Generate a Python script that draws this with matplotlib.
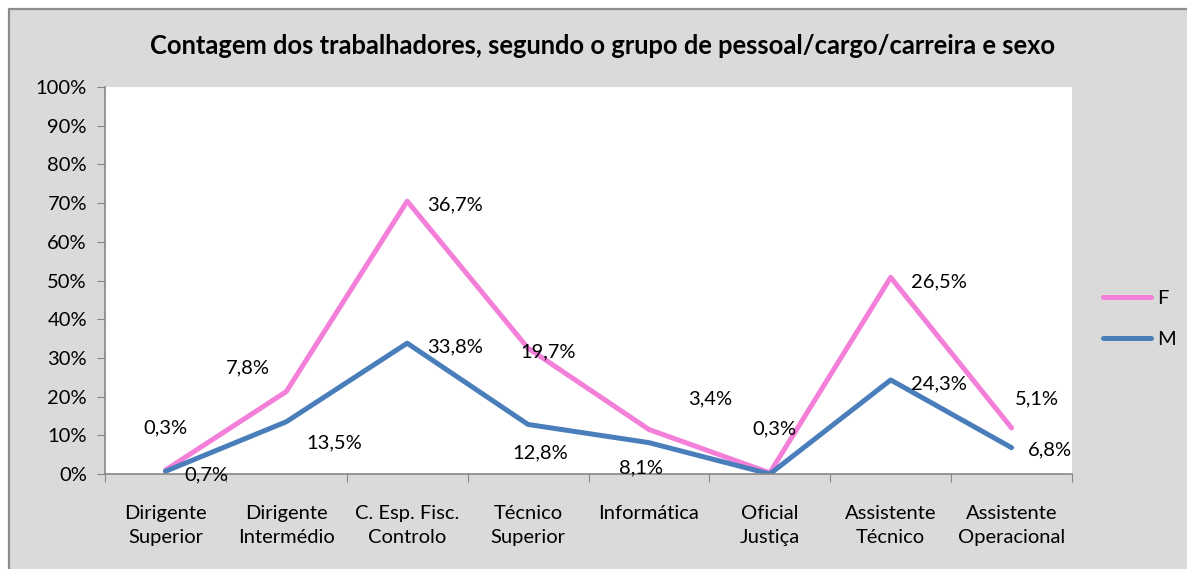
import matplotlib
matplotlib.use('AGG')
import matplotlib.pyplot as plt
from matplotlib.patches import Rectangle
from matplotlib.lines import Line2D

categories = ['Dirigente\nSuperior', 'Dirigente\nIntermédio', 'C. Esp. Fisc.\nControlo',
              'Técnico\nSuperior', 'Informática', 'Oficial\nJustiça',
              'Assistente\nTécnico', 'Assistente\nOperacional']
m_values = [0.7, 13.5, 33.8, 12.8, 8.1, 0.0, 24.3, 6.8]
f_values = [0.3, 7.8, 36.7, 19.7, 3.4, 0.3, 26.5, 5.1]
series_names = ['F', 'M']
title = 'Contagem dos trabalhadores, segundo o grupo de pessoal/cargo/carreira e sexo'

# label offsets in pixels (dx, dy) as placed in the original sheet
f_offsets = [(0, 42), (-38, 24), (48, -4), (20, -4), (61, 31), (5, 44), (48, -4), (25, 29)]
m_offsets = [(41, -4), (48, -21), (48, -4), (12, -28), (-8, -25), None, (48, -4), (38, -2)]

plt.rcParams['font.family'] = ['Lato', 'DejaVu Sans']
W, H = 1187, 569
bg = '#dadada'
pink = '#f47fd9'
blue = '#4a7ebb'
fs = 14.5

fig = plt.figure(figsize=(W / 100, H / 100), dpi=100)
fig.patch.set_facecolor('white')
fig.add_artist(Rectangle((9 / W, 0), 1.0, (H - 9) / H, transform=fig.transFigure,
                         facecolor=bg, edgecolor='none', zorder=-10))
fig.add_artist(Line2D([9 / W, 9 / W, 1], [0, (H - 9) / H, (H - 9) / H], transform=fig.transFigure,
                      color='#8c8c8c', linewidth=1.6, zorder=-9))

ax = fig.add_axes([105 / W, (H - 474) / H, 967 / W, 387 / H])
ax.set_facecolor('white')

x = list(range(len(categories)))
f_stacked = [m + f for m, f in zip(m_values, f_values)]

ax.plot(x, f_stacked, color=pink, linewidth=3.6, solid_capstyle='round', label=series_names[0])
ax.plot(x, m_values, color=blue, linewidth=3.6, solid_capstyle='round', label=series_names[1])

for i in x:
    dx, dy = f_offsets[i]
    ax.annotate(f'{f_values[i]:.1f}%'.replace('.', ','), (i, f_stacked[i]),
                xytext=(dx, dy), textcoords='offset pixels',
                ha='center', va='center', fontsize=fs)
    if m_offsets[i] is not None:
        dx, dy = m_offsets[i]
        ax.annotate(f'{m_values[i]:.1f}%'.replace('.', ','), (i, m_values[i]),
                    xytext=(dx, dy), textcoords='offset pixels',
                    ha='center', va='center', fontsize=fs)

ax.set_xlim(-0.5, len(categories) - 0.5)
ax.set_ylim(0, 100)
ax.set_yticks(range(0, 101, 10))
ax.set_yticklabels([f'{v}%' for v in range(0, 101, 10)], fontsize=fs)
ax.set_xticks([i - 0.5 for i in range(len(categories) + 1)])
ax.set_xticklabels([])
ax.set_xticks(x, minor=True)
ax.set_xticklabels(categories, minor=True, fontsize=fs, linespacing=1.5)
ax.tick_params(axis='x', which='minor', length=0, pad=22)
ax.tick_params(axis='x', which='major', length=6, color='#868686')
ax.tick_params(axis='y', length=6, color='#868686', pad=7)

for side in ['top', 'right']:
    ax.spines[side].set_visible(False)
for side in ['left', 'bottom']:
    ax.spines[side].set_color('#868686')
    ax.spines[side].set_linewidth(1.2)

fig.text(603 / W, 1 - 46 / H, title, ha='center', va='center', fontsize=18.4, fontweight='bold')

fig.legend(loc='center left', bbox_to_anchor=(1085 / W, 1 - 319 / H), frameon=False,
           fontsize=fs, handlelength=2.4, handletextpad=0.3, labelspacing=1.2)

fig.savefig('out.png', dpi=100)
plt.close(fig)
